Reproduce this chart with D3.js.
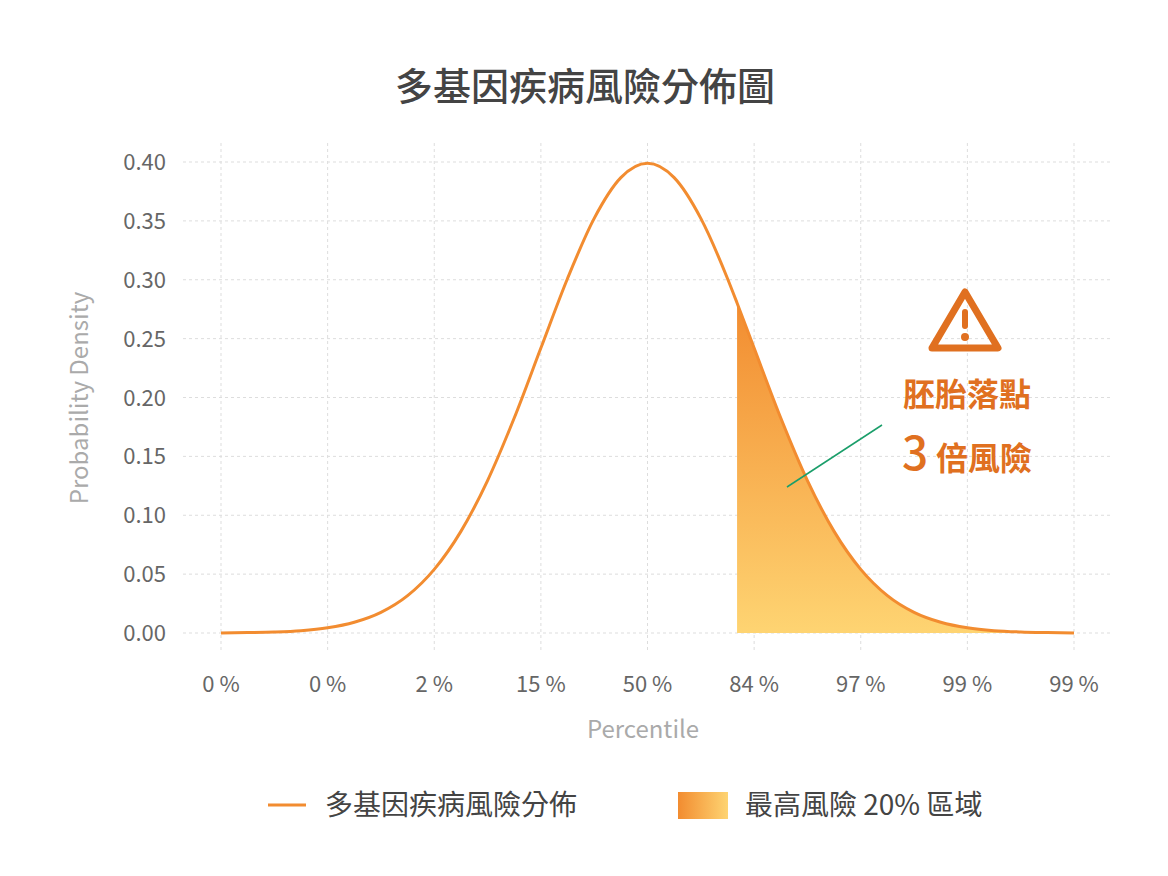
<!DOCTYPE html>
<html><head><meta charset="utf-8">
<script src="https://cdn.jsdelivr.net/npm/d3@7"></script>
<style>body{margin:0;background:#fff}text{font-family:"Noto Sans CJK TC","Noto Sans",sans-serif}</style>
</head><body><svg id="c" width="1168" height="876"></svg>
<script>
const zValues = [-4,-3.75,-3.5,-3.25,-3,-2.75,-2.5,-2.25,-2,-1.75,-1.5,-1.25,-1,-0.75,-0.5,-0.25,0,0.25,0.5,0.75,0.84,1,1.25,1.5,1.75,2,2.25,2.5,2.75,3,3.25,3.5,3.75,4];
const density = [0.0001,0.0004,0.0009,0.0020,0.0044,0.0091,0.0175,0.0317,0.0540,0.0863,0.1295,0.1826,0.2420,0.3011,0.3521,0.3867,0.3989,0.3867,0.3521,0.3011,0.2803,0.2420,0.1826,0.1295,0.0863,0.0540,0.0317,0.0175,0.0091,0.0044,0.0020,0.0009,0.0004,0.0001];
const xTicks = [-4,-3,-2,-1,0,1,2,3,4];
const xTickLabels = ["0 %","0 %","2 %","15 %","50 %","84 %","97 %","99 %","99 %"];
const yTicks = [0,0.05,0.10,0.15,0.20,0.25,0.30,0.35,0.40];
const shadeStart = 0.84;

const svg = d3.select("#c");
const x = d3.scaleLinear().domain([-4,4]).range([221,1074]);
const y = d3.scaleLinear().domain([0,0.4]).range([633,162]);
const pts = zValues.map((z,i)=>({z,d:density[i]}));

const defs = svg.append("defs");
const g1 = defs.append("linearGradient").attr("id","sg").attr("x1",0).attr("y1",0).attr("x2",0).attr("y2",1);
g1.append("stop").attr("offset","0%").attr("stop-color","#f28c30");
g1.append("stop").attr("offset","100%").attr("stop-color","#fed472");
const g2 = defs.append("linearGradient").attr("id","lg").attr("x1",0).attr("y1",0).attr("x2",1).attr("y2",0);
g2.append("stop").attr("offset","0%").attr("stop-color","#f28c30");
g2.append("stop").attr("offset","100%").attr("stop-color","#fed472");

// grid
svg.append("g").selectAll("line").data(yTicks).join("line")
 .attr("x1",183).attr("x2",1112).attr("y1",d=>y(d)).attr("y2",d=>y(d))
 .attr("stroke","#ddd").attr("stroke-dasharray","3,3");
svg.append("g").selectAll("line").data(xTicks).join("line")
 .attr("x1",d=>x(d)).attr("x2",d=>x(d)).attr("y1",143).attr("y2",650)
 .attr("stroke","#ddd").attr("stroke-dasharray","3,3");

// y ticks
svg.append("g").selectAll("text").data(yTicks).join("text")
 .attr("x",166).attr("y",d=>y(d)+8).attr("text-anchor","end")
 .attr("font-size",22).attr("fill","#666").text(d=>d.toFixed(2));
svg.append("g").selectAll("text").data(xTicks).join("text")
 .attr("x",d=>x(d)).attr("y",692).attr("text-anchor","middle")
 .attr("font-size",22).attr("fill","#666").text((d,i)=>xTickLabels[i]);

// shaded area
const shade = pts.filter(p=>p.z>=shadeStart);
svg.append("path").datum(shade)
 .attr("d",d3.area().x(p=>x(p.z)).y0(y(0)).y1(p=>y(p.d)).curve(d3.curveMonotoneX))
 .attr("fill","url(#sg)");
svg.append("path").datum(pts)
 .attr("d",d3.line().x(p=>x(p.z)).y(p=>y(p.d)).curve(d3.curveMonotoneX))
 .attr("fill","none").attr("stroke","#f28c30").attr("stroke-width",3);

// title & labels
svg.append("text").attr("x",585).attr("y",100).attr("text-anchor","middle")
 .attr("font-size",38).attr("font-weight",500).attr("fill","#444").text("多基因疾病風險分佈圖");
svg.append("text").attr("x",643).attr("y",738).attr("text-anchor","middle")
 .attr("font-size",24).attr("fill","#aaa").text("Percentile");
svg.append("text").attr("transform","translate(88,398) rotate(-90)").attr("text-anchor","middle")
 .attr("font-size",24).attr("fill","#aaa").text("Probability Density");

// annotation
svg.append("line").attr("x1",882).attr("y1",425).attr("x2",787).attr("y2",487)
 .attr("stroke","#1a9e6a").attr("stroke-width",1.5);
const w = svg.append("g").attr("transform","translate(965,322)");
w.append("path").attr("d","M0,-30 L33,26 L-33,26 Z").attr("fill","none")
 .attr("stroke","#e07020").attr("stroke-width",7).attr("stroke-linejoin","round");
w.append("rect").attr("x",-3).attr("y",-13).attr("width",6).attr("height",20).attr("rx",3).attr("fill","#e07020");
w.append("circle").attr("cx",0).attr("cy",15).attr("r",4).attr("fill","#e07020");
svg.append("text").attr("x",967).attr("y",406).attr("text-anchor","middle")
 .attr("font-size",32).attr("font-weight",700).attr("fill","#e07020").text("胚胎落點");
const t = svg.append("text").attr("x",967).attr("y",470).attr("text-anchor","middle").attr("fill","#e07020");
t.append("tspan").attr("font-size",46).attr("font-weight",500).text("3");
t.append("tspan").attr("font-size",32).attr("font-weight",700).attr("dx",8).text("倍風險");

// legend
svg.append("line").attr("x1",268).attr("x2",306).attr("y1",805).attr("y2",805).attr("stroke","#f28c30").attr("stroke-width",3);
svg.append("text").attr("x",325).attr("y",815).attr("font-size",28).attr("fill","#444").text("多基因疾病風險分佈");
svg.append("rect").attr("x",678).attr("y",792).attr("width",50).attr("height",27).attr("fill","url(#lg)");
svg.append("text").attr("x",745).attr("y",815).attr("font-size",28).attr("fill","#444").text("最高風險 20% 區域");
</script></body></html>
